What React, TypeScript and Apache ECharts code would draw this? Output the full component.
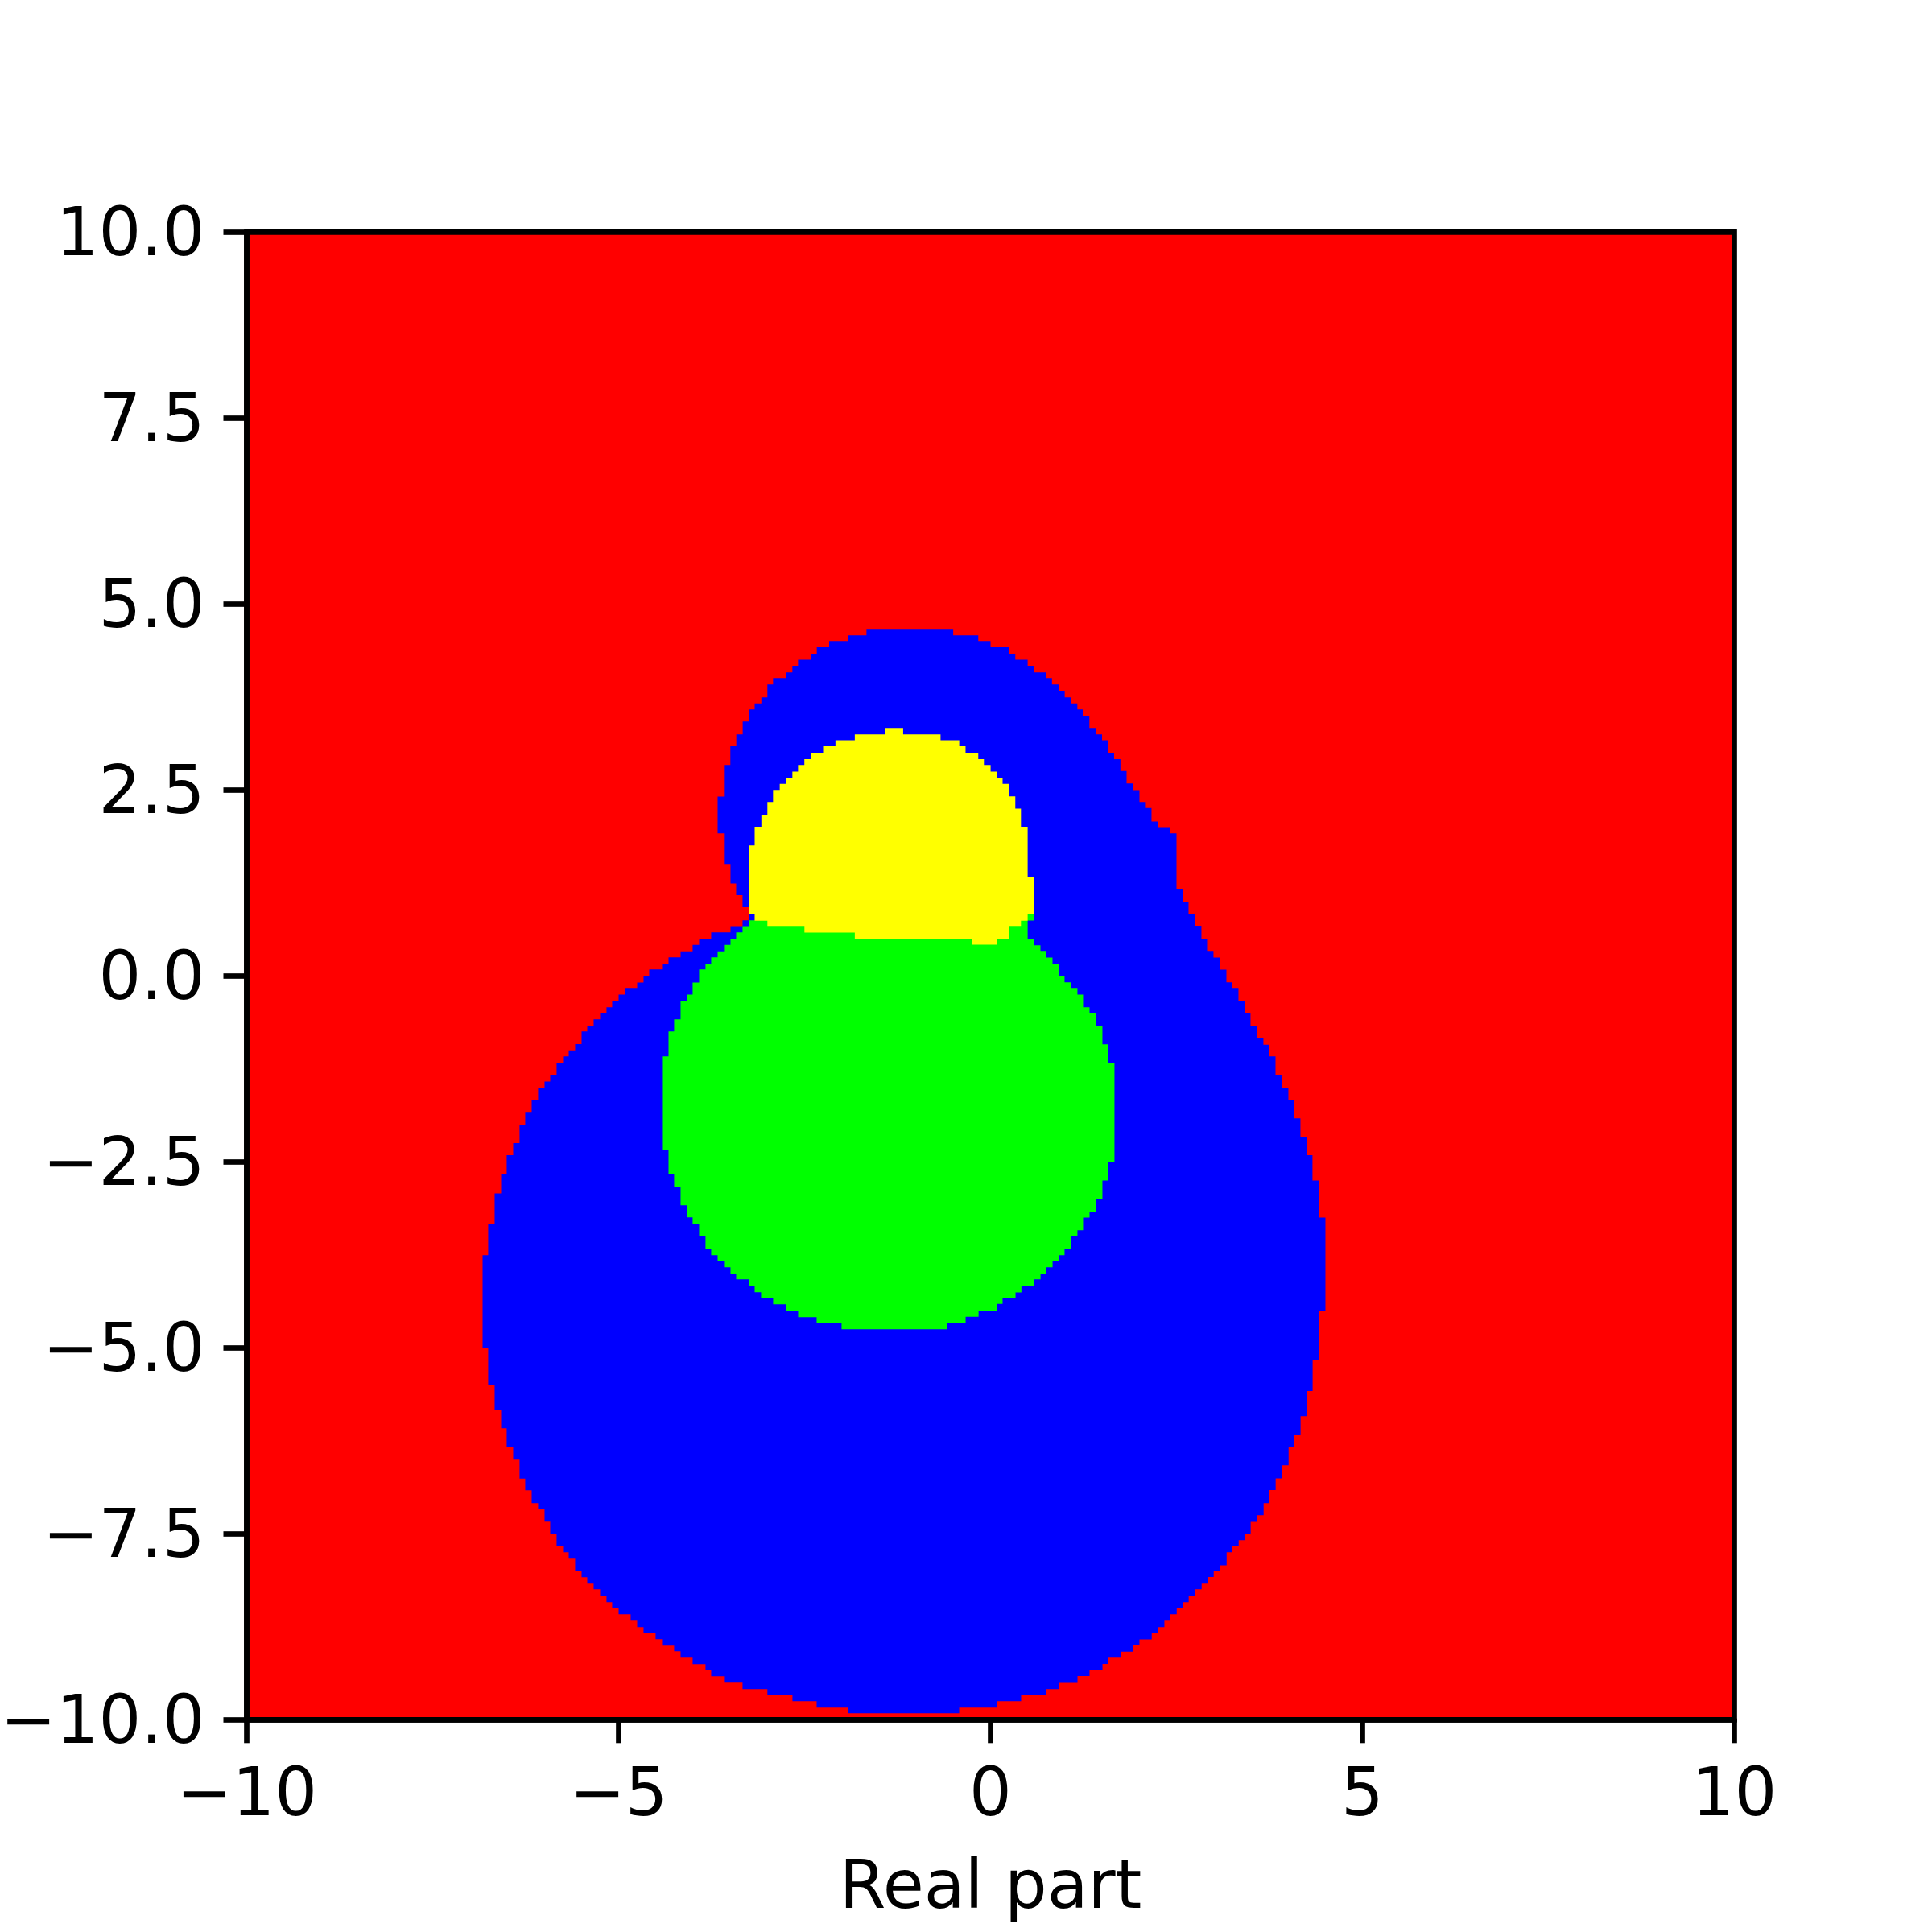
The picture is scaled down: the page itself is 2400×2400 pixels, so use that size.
import React, { useEffect, useRef } from "react";
import * as echarts from "echarts";

// Tick values
const xTicks = [-10, -5, 0, 5, 10];
const yTicks = [-10, -7.5, -5, -2.5, 0, 2.5, 5, 7.5, 10];

// Region boundaries, as staircase steps [x, yFrom, yTo]
// listed from top to bottom, for the right edge and the left edge of each region.
const blueRight: number[][] = [
  [-0.502, 4.665, 4.578], [-0.165, 4.578, 4.502], [0.0, 4.502, 4.419], [0.248, 4.419, 4.333],
  [0.333, 4.333, 4.25], [0.499, 4.25, 4.17], [0.584, 4.17, 4.08], [0.746, 4.08, 4.005],
  [0.826, 4.005, 3.918], [0.916, 3.918, 3.835], [0.997, 3.835, 3.745], [1.082, 3.745, 3.665],
  [1.167, 3.665, 3.583], [1.239, 3.583, 3.492], [1.329, 3.492, 3.334], [1.419, 3.334, 3.247],
  [1.499, 3.247, 3.168], [1.576, 3.168, 2.998], [1.661, 2.998, 2.915], [1.746, 2.915, 2.754],
  [1.829, 2.754, 2.588], [1.915, 2.588, 2.499], [2.002, 2.499, 2.337], [2.077, 2.337, 2.256],
  [2.164, 2.256, 2.077], [2.251, 2.077, 2.001], [2.413, 2.001, 1.915], [2.5, 1.915, 1.171],
  [2.586, 1.171, 0.996], [2.662, 0.996, 0.834], [2.748, 0.834, 0.673], [2.835, 0.673, 0.498],
  [2.911, 0.498, 0.336], [2.997, 0.336, 0.246], [3.084, 0.246, 0.085], [3.171, 0.085, -0.086],
  [3.246, -0.086, -0.162], [3.333, -0.162, -0.337], [3.419, -0.337, -0.498], [3.495, -0.498, -0.673],
  [3.582, -0.673, -0.83], [3.668, -0.83, -0.925], [3.744, -0.925, -1.082], [3.831, -1.082, -1.333],
  [3.917, -1.333, -1.503], [4.004, -1.503, -1.669], [4.08, -1.669, -1.916], [4.166, -1.916, -2.163],
  [4.253, -2.163, -2.409], [4.328, -2.409, -2.75], [4.415, -2.75, -3.248], [4.502, -3.248, -4.503],
  [4.417, -4.503, -5.163], [4.33, -5.163, -5.582], [4.255, -5.582, -5.92], [4.168, -5.92, -6.168],
  [4.085, -6.168, -6.331], [4.007, -6.331, -6.58], [3.92, -6.58, -6.755], [3.833, -6.755, -6.913],
  [3.746, -6.913, -7.088], [3.671, -7.088, -7.251], [3.584, -7.251, -7.341], [3.497, -7.341, -7.5],
  [3.423, -7.5, -7.585], [3.336, -7.585, -7.667], [3.249, -7.667, -7.748], [3.174, -7.748, -7.923],
  [3.087, -7.923, -8.0], [3.0, -8.0, -8.082], [2.917, -8.082, -8.171], [2.838, -8.171, -8.245],
  [2.752, -8.245, -8.334], [2.664, -8.334, -8.42], [2.59, -8.42, -8.493], [2.503, -8.493, -8.583],
  [2.416, -8.583, -8.668], [2.337, -8.668, -8.754], [2.25, -8.754, -8.835], [2.167, -8.835, -8.921],
  [2.002, -8.921, -9.002], [1.919, -9.002, -9.084], [1.753, -9.084, -9.165], [1.583, -9.165, -9.25],
  [1.505, -9.25, -9.328], [1.331, -9.328, -9.413], [1.169, -9.413, -9.503], [0.916, -9.503, -9.588],
  [0.747, -9.588, -9.662], [0.411, -9.662, -9.751], [0.088, -9.751, -9.837], [-0.422, -9.837, -9.914],
];

const blueLeft: number[][] = [
  [-1.668, 4.665, 4.578], [-1.915, 4.578, 4.502], [-2.17, 4.502, 4.419], [-2.336, 4.419, 4.333],
  [-2.408, 4.333, 4.25], [-2.588, 4.25, 4.17], [-2.664, 4.17, 4.08], [-2.749, 4.08, 4.005],
  [-2.924, 4.005, 3.918], [-3.0, 3.918, 3.745], [-3.081, 3.745, 3.665], [-3.171, 3.665, 3.583],
  [-3.247, 3.583, 3.42], [-3.332, 3.42, 3.247], [-3.418, 3.247, 3.088], [-3.498, 3.088, 2.836],
  [-3.584, 2.836, 2.41], [-3.669, 2.41, 1.916], [-3.584, 1.916, 1.504], [-3.496, 1.504, 1.243],
  [-3.42, 1.243, 1.085], [-3.334, 1.085, 0.922], [-3.247, 0.922, 0.746], [-3.334, 0.746, 0.669],
  [-3.496, 0.669, 0.584], [-3.756, 0.584, 0.498], [-3.918, 0.498, 0.417], [-4.005, 0.417, 0.331],
  [-4.167, 0.331, 0.25], [-4.329, 0.25, 0.164], [-4.416, 0.164, 0.087], [-4.589, 0.087, 0.002],
  [-4.665, 0.002, -0.088], [-4.751, -0.088, -0.161], [-4.914, -0.161, -0.251], [-5.0, -0.251, -0.336],
  [-5.087, -0.336, -0.422], [-5.163, -0.422, -0.503], [-5.249, -0.503, -0.584], [-5.336, -0.584, -0.67],
  [-5.422, -0.67, -0.747], [-5.498, -0.747, -0.918], [-5.585, -0.918, -1.0], [-5.671, -1.0, -1.081],
  [-5.747, -1.081, -1.171], [-5.834, -1.171, -1.329], [-5.92, -1.329, -1.419], [-5.996, -1.419, -1.504],
  [-6.083, -1.504, -1.663], [-6.169, -1.663, -1.829], [-6.256, -1.829, -2.001], [-6.332, -2.001, -2.249],
  [-6.418, -2.249, -2.411], [-6.505, -2.411, -2.664], [-6.58, -2.664, -2.925], [-6.667, -2.925, -3.331],
  [-6.754, -3.331, -3.755], [-6.829, -3.755, -5.0], [-6.754, -5.0, -5.498], [-6.667, -5.498, -5.833],
  [-6.58, -5.833, -6.082], [-6.505, -6.082, -6.331], [-6.418, -6.331, -6.504], [-6.332, -6.504, -6.757],
  [-6.256, -6.757, -6.915], [-6.169, -6.915, -7.088], [-6.083, -7.088, -7.164], [-5.996, -7.164, -7.337],
  [-5.92, -7.337, -7.5], [-5.834, -7.5, -7.662], [-5.747, -7.662, -7.749], [-5.671, -7.749, -7.835],
  [-5.585, -7.835, -7.998], [-5.498, -7.998, -8.084], [-5.422, -8.084, -8.171], [-5.336, -8.171, -8.247],
  [-5.249, -8.247, -8.333], [-5.163, -8.333, -8.42], [-5.087, -8.42, -8.495], [-5.0, -8.495, -8.582],
  [-4.838, -8.582, -8.669], [-4.751, -8.669, -8.755], [-4.665, -8.755, -8.831], [-4.503, -8.831, -8.917],
  [-4.416, -8.917, -9.004], [-4.254, -9.004, -9.08], [-4.167, -9.08, -9.166], [-4.005, -9.166, -9.253],
  [-3.832, -9.253, -9.329], [-3.756, -9.329, -9.415], [-3.583, -9.415, -9.502], [-3.334, -9.502, -9.588],
  [-3.0, -9.588, -9.664], [-2.663, -9.664, -9.751], [-2.338, -9.751, -9.837], [-1.916, -9.837, -9.914],
];

const greenRight: number[][] = [
  [0.584, 0.834, 0.745], [0.499, 0.745, 0.498], [0.584, 0.498, 0.412], [0.671, 0.412, 0.336],
  [0.746, 0.336, 0.246], [0.833, 0.246, 0.161], [0.919, 0.161, 0.0], [0.995, 0.0, -0.086],
  [1.082, -0.086, -0.162], [1.168, -0.162, -0.252], [1.244, -0.252, -0.422], [1.331, -0.422, -0.498],
  [1.417, -0.498, -0.673], [1.504, -0.673, -0.92], [1.58, -0.92, -1.171], [1.666, -1.171, -2.499],
  [1.58, -2.499, -2.75], [1.504, -2.75, -2.997], [1.417, -2.997, -3.172], [1.331, -3.172, -3.248],
  [1.244, -3.248, -3.419], [1.168, -3.419, -3.495], [1.082, -3.495, -3.666], [0.995, -3.666, -3.755],
  [0.919, -3.755, -3.832], [0.834, -3.832, -3.917], [0.747, -3.917, -4.002], [0.672, -4.002, -4.079],
  [0.585, -4.079, -4.165], [0.415, -4.165, -4.255], [0.336, -4.255, -4.328], [0.162, -4.328, -4.409],
  [0.088, -4.409, -4.503], [-0.161, -4.503, -4.584], [-0.335, -4.584, -4.666], [-0.583, -4.666, -4.75],
];

const greenLeft: number[][] = [
  [-3.1, 0.834, 0.746], [-3.247, 0.746, 0.669], [-3.334, 0.669, 0.584], [-3.42, 0.584, 0.498],
  [-3.496, 0.498, 0.417], [-3.583, 0.417, 0.331], [-3.669, 0.331, 0.25], [-3.756, 0.25, 0.164],
  [-3.832, 0.164, 0.087], [-3.918, 0.087, -0.088], [-4.005, -0.088, -0.251], [-4.08, -0.251, -0.336],
  [-4.167, -0.336, -0.584], [-4.254, -0.584, -0.747], [-4.329, -0.747, -1.081], [-4.416, -1.081, -2.339],
  [-4.329, -2.339, -2.664], [-4.254, -2.664, -2.835], [-4.167, -2.835, -3.083], [-4.08, -3.083, -3.246],
  [-4.005, -3.246, -3.331], [-3.918, -3.331, -3.494], [-3.832, -3.494, -3.67], [-3.756, -3.67, -3.755],
  [-3.669, -3.755, -3.836], [-3.583, -3.836, -3.918], [-3.496, -3.918, -4.003], [-3.42, -4.003, -4.08],
  [-3.247, -4.08, -4.166], [-3.171, -4.166, -4.252], [-3.085, -4.252, -4.329], [-2.923, -4.329, -4.414],
  [-2.749, -4.414, -4.5], [-2.587, -4.5, -4.589], [-2.338, -4.589, -4.662], [-2.003, -4.662, -4.75],
];

const yellowRight: number[][] = [
  [-1.175, 3.334, 3.247], [-0.672, 3.247, 3.168], [-0.421, 3.168, 3.088], [-0.336, 3.088, 2.998],
  [-0.165, 2.998, 2.915], [-0.089, 2.915, 2.836], [0.001, 2.836, 2.746], [0.086, 2.746, 2.663],
  [0.162, 2.663, 2.583], [0.248, 2.583, 2.414], [0.333, 2.414, 2.248], [0.409, 2.248, 2.006],
  [0.499, 2.006, 1.331], [0.584, 1.331, 0.834], [0.499, 0.834, 0.743], [0.409, 0.743, 0.671],
  [0.248, 0.671, 0.498], [0.082, 0.498, 0.419],
];

const yellowLeft: number[][] = [
  [-1.417, 3.334, 3.247], [-1.825, 3.247, 3.168], [-2.085, 3.168, 3.088], [-2.251, 3.088, 2.998],
  [-2.408, 2.998, 2.915], [-2.503, 2.915, 2.836], [-2.588, 2.836, 2.746], [-2.664, 2.746, 2.663],
  [-2.749, 2.663, 2.583], [-2.834, 2.583, 2.5], [-2.924, 2.5, 2.338], [-3.0, 2.338, 2.161],
  [-3.081, 2.161, 2.006], [-3.171, 2.006, 1.754], [-3.247, 1.754, 0.834], [-3.171, 0.834, 0.743],
  [-3.0, 0.743, 0.671], [-2.502, 0.671, 0.581], [-1.825, 0.581, 0.498], [-0.246, 0.498, 0.419],
];

const regionColors = ["#0000ff", "#00ff00", "#ffff00"];

function outline(right: number[][], left: number[][]): number[][] {
  const pts: number[][] = [];
  for (const [x, y1, y2] of right) {
    pts.push([x, y1], [x, y2]);
  }
  for (let i = left.length - 1; i >= 0; i--) {
    const [x, y1, y2] = left[i];
    pts.push([x, y2], [x, y1]);
  }
  return pts;
}

const FONT = "DejaVu Sans";
const fmtMinus = (s: string) => s.replace("-", "\u2212");

export default function App() {
  const ref = useRef<HTMLDivElement>(null);

  useEffect(() => {
    document.body.style.margin = "0";
    if (!ref.current) return;
    const chart = echarts.init(ref.current, undefined, { renderer: "svg" });

    const regions = [
      outline(blueRight, blueLeft),
      outline(greenRight, greenLeft),
      outline(yellowRight, yellowLeft),
    ];

    const series = regions.map((pts, idx) => ({
      type: "custom",
      coordinateSystem: "cartesian2d",
      silent: true,
      z: 2 + idx,
      data: pts,
      renderItem: (params: any, api: any) => {
        if (params.dataIndex !== 0) return null;
        const points = pts.map((p) => api.coord(p));
        return {
          type: "polygon",
          shape: { points },
          style: { fill: regionColors[idx], stroke: null },
        };
      },
    }));

    chart.setOption({
      animation: false,
      backgroundColor: "#ffffff",
      grid: {
        left: 306.5,
        top: 288.3,
        width: 1848,
        height: 1848,
        containLabel: false,
        outerBoundsMode: "none",
        show: true,
        backgroundColor: "#ff0000",
        borderColor: "#000000",
        borderWidth: 6.67,
      },
      xAxis: {
        type: "value",
        min: xTicks[0],
        max: xTicks[xTicks.length - 1],
        interval: 5,
        position: "bottom",
        name: "Real part",
        nameLocation: "middle",
        nameGap: 164,
        nameTextStyle: { fontSize: 83, color: "#000", fontFamily: FONT },
        axisLine: { show: true, onZero: false, lineStyle: { color: "#000", width: 6.67 } },
        axisTick: { show: true, length: 29, lineStyle: { color: "#000", width: 6.67 } },
        axisLabel: {
          margin: 49,
          fontSize: 83,
          color: "#000",
          fontFamily: FONT,
          formatter: (v: number) => fmtMinus(String(v)),
        },
        splitLine: { show: false },
      },
      yAxis: {
        type: "value",
        min: yTicks[0],
        max: yTicks[yTicks.length - 1],
        interval: 2.5,
        position: "left",
        axisLine: { show: true, onZero: false, lineStyle: { color: "#000", width: 6.67 } },
        axisTick: { show: true, length: 29, lineStyle: { color: "#000", width: 6.67 } },
        axisLabel: {
          margin: 52,
          fontSize: 83,
          color: "#000",
          fontFamily: FONT,
          formatter: (v: number) => fmtMinus(v.toFixed(1)),
        },
        splitLine: { show: false },
      },
      series,
    });

    return () => chart.dispose();
  }, []);

  return (
    <div
      ref={ref}
      style={{ position: "absolute", left: 0, top: 0, width: 2400, height: 2400 }}
    />
  );
}
